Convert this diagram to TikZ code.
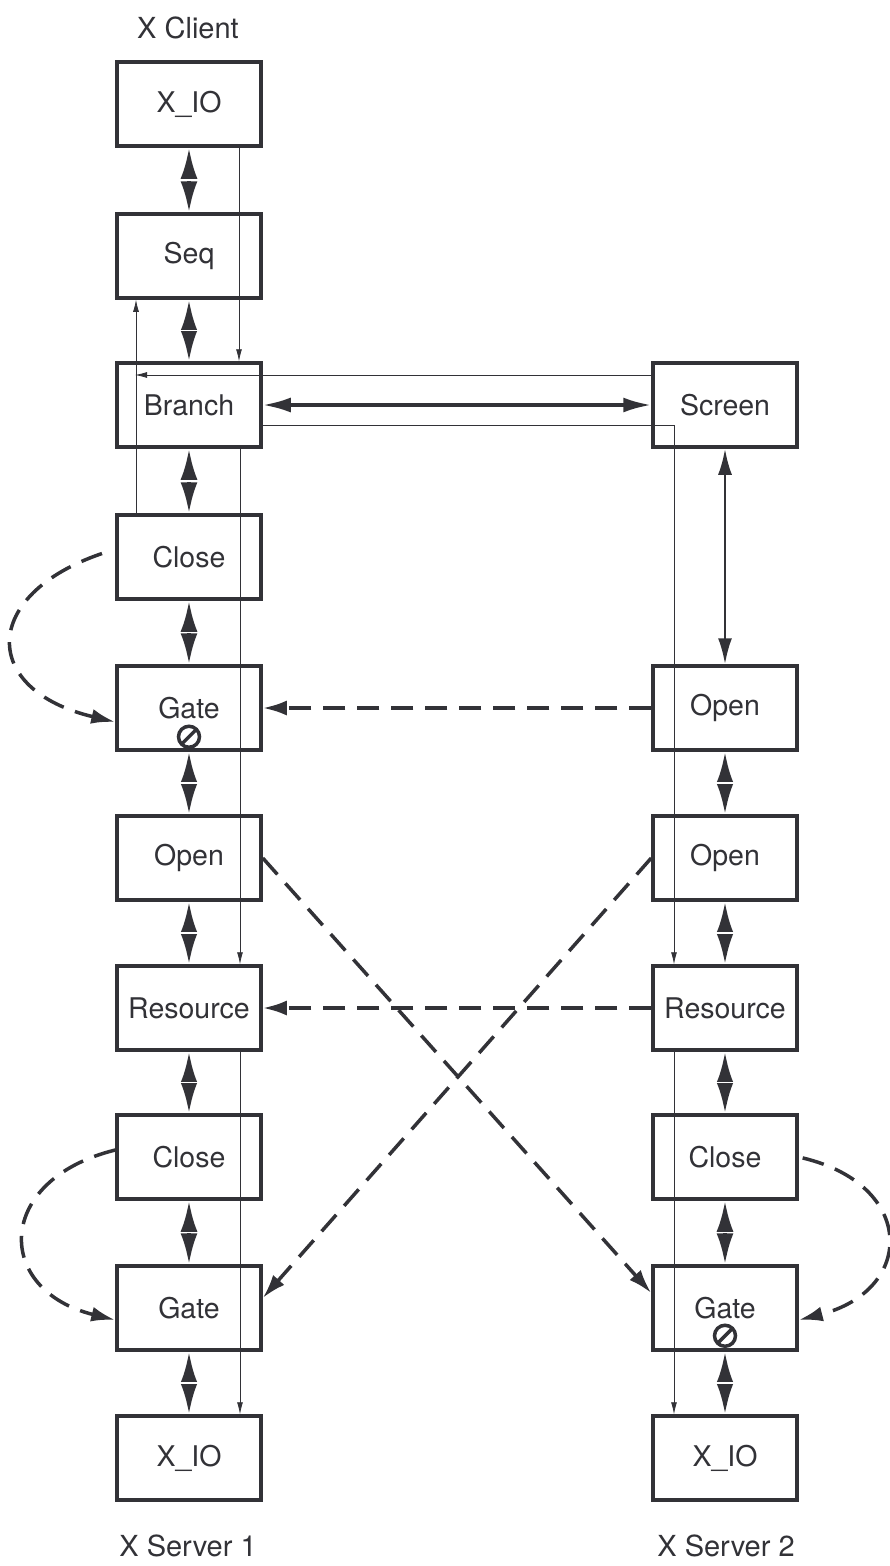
\documentclass[tikz,border=0pt]{standalone}
\usepackage{fontspec}
\setmainfont{TeX Gyre Heros}
\usetikzlibrary{arrows.meta,calc}
\definecolor{ink}{RGB}{50,50,55}
\begin{document}
\begin{tikzpicture}[x=1pt,y=-1pt,
  box/.style={draw=ink, line width=3.5pt, minimum width=144pt, minimum height=84pt, inner sep=0pt, font=\fontsize{28.5}{32}\selectfont, text=ink},
  lab/.style={font=\fontsize{29}{32}\selectfont, text=ink},
  dbl/.style={draw=ink, line width=3.5pt, {Latex[length=31pt,width=17pt]}-{Latex[length=31pt,width=17pt]}},
  slit/.style={fill=white, inner sep=0pt, minimum width=22pt, minimum height=1.5pt},
  longdbl/.style={draw=ink, line width=2.5pt, {Latex[length=26pt,width=14pt]}-{Latex[length=26pt,width=14pt]}},
  hdbl/.style={draw=ink, line width=3.5pt, {Latex[length=28pt,width=15pt]}-{Latex[length=28pt,width=15pt]}},
  thinarr/.style={draw=ink, line width=0.8pt, -{Latex[length=12pt,width=6pt]}},
  dsh/.style={draw=ink, line width=3.5pt, dash pattern=on 22pt off 12pt, -{Latex[length=24pt,width=15pt]}},
  stopsym/.style={circle, draw=ink, line width=3.5pt, fill=white, minimum size=21pt, inner sep=0pt,
    path picture={\draw[ink, line width=3.5pt] (path picture bounding box.south west) -- (path picture bounding box.north east);}}
]
\useasboundingbox (0,0) rectangle (889,1566);

% labels
\node[lab] (xc) at (188,28) {X Client};
\node[lab] (xs1) at (188,1546) {X Server 1};
\node[lab] (xs2) at (726,1546) {X Server 2};

% left column
\node[box] (lxio) at (189,104) {X\_IO};
\node[box] (lseq) at (189,256) {Seq};
\node[box] (lbr) at (189,405) {Branch};
\node[box] (lcl1) at (189,557) {Close};
\node[box] (lg1) at (189,708) {Gate};
\node[box] (lop) at (189,858) {Open};
\node[box] (lres) at (189,1008) {Resource};
\node[box] (lcl2) at (189,1157) {Close};
\node[box] (lg2) at (189,1308) {Gate};
\node[box] (lxio2) at (189,1458) {X\_IO};

% right column
\node[box] (rscr) at (725,405) {Screen};
\node[box] (rop1) at (725,708) {Open};
\node[box] (rop2) at (725,858) {Open};
\node[box] (rres) at (725,1008) {Resource};
\node[box] (rcl) at (725,1157) {Close};
\node[box] (rg) at (725,1308) {Gate};
\node[box] (rxio) at (725,1458) {X\_IO};

% thick double arrows, left
\draw[dbl] (lxio) -- node[slit]{} (lseq);
\draw[dbl] (lseq) -- node[slit]{} (lbr);
\draw[dbl] (lbr) -- node[slit]{} (lcl1);
\draw[dbl] (lcl1) -- node[slit]{} (lg1);
\draw[dbl] (lg1) -- node[slit]{} (lop);
\draw[dbl] (lop) -- node[slit]{} (lres);
\draw[dbl] (lres) -- node[slit]{} (lcl2);
\draw[dbl] (lcl2) -- node[slit]{} (lg2);
\draw[dbl] (lg2) -- node[slit]{} (lxio2);

% right
\draw[longdbl] (rscr) -- (rop1);
\draw[dbl] (rop1) -- node[slit]{} (rop2);
\draw[dbl] (rop2) -- node[slit]{} (rres);
\draw[dbl] (rres) -- node[slit]{} (rcl);
\draw[dbl] (rcl) -- node[slit]{} (rg);
\draw[dbl] (rg) -- node[slit]{} (rxio);

% Branch <-> Screen
\draw[hdbl] (lbr) -- (rscr);

% stop symbols
\node[stopsym] (s1) at ([yshift=15pt]lg1.south) {};
\node[stopsym] (s2) at ([yshift=16pt]rg.south) {};

% thin lines
\draw[thinarr] ([xshift=50pt]lxio.south) -- ([xshift=50pt]lbr.north);
\draw[thinarr] ([xshift=-53pt]lcl1.north) -- ([xshift=-53pt]lseq.south);
\draw[thinarr] ([yshift=30pt]rscr.west) -- ([xshift=-54pt,yshift=30pt]lbr.center);
\draw[thinarr] ([yshift=-20pt]lbr.east) -| ([xshift=-51pt]rres.north);
\draw[thinarr] ([xshift=-51pt]rres.south) -- ([xshift=-51pt]rxio.north);
\draw[thinarr] ([xshift=51pt]lbr.south) -- ([xshift=51pt]lres.north);
\draw[thinarr] ([xshift=51pt]lres.south) -- ([xshift=51pt]lxio2.north);

% dashed connectors
\draw[dsh, shorten <=14pt] ([yshift=8pt]lcl1.west) .. controls (-20,595) and (-20,690) .. ([yshift=-14pt]lg1.west);
\draw[dsh] (rop1.west) -- (lg1.east);
\draw[dsh] (lop.east) -- ([yshift=15pt]rg.west);
\draw[dsh] (rop2.west) -- ([yshift=10pt]lg2.east);
\draw[dsh] (rres.west) -- (lres.east);
\draw[dsh] ([yshift=7pt]lcl2.west) .. controls (-6,1180) and (-6,1290) .. ([yshift=-12pt]lg2.west);
\draw[dsh, shorten <=4pt] (rcl.east) .. controls (916,1185) and (916,1290) .. ([yshift=-12pt]rg.east);
\end{tikzpicture}
\end{document}
